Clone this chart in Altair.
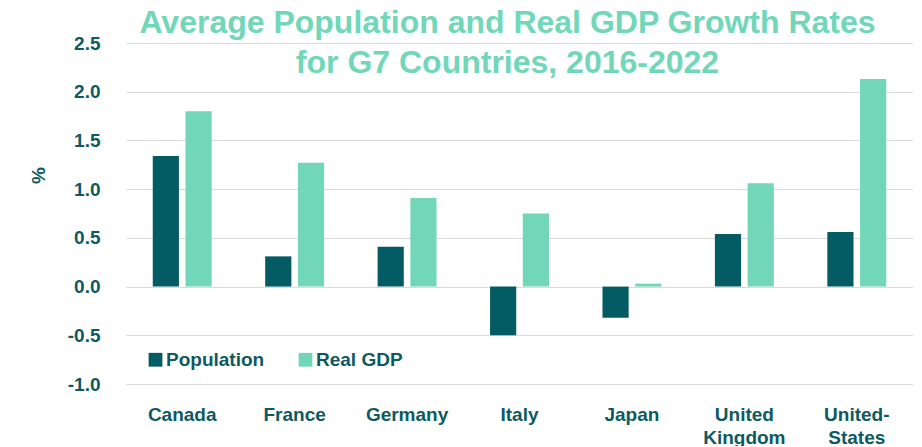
import altair as alt
import pandas as pd

countries = ["Canada", "France", "Germany", "Italy", "Japan", "United Kingdom", "United-States"]
population = [1.34, 0.31, 0.41, -0.50, -0.32, 0.54, 0.56]
real_gdp = [1.80, 1.27, 0.91, 0.75, 0.03, 1.06, 2.13]
series = ["Population", "Real GDP"]
colors = ["#035c63", "#71d7b8"]

rows = []
for c, p, g in zip(countries, population, real_gdp):
    rows.append({"country": c, "series": "Population", "value": p})
    rows.append({"country": c, "series": "Real GDP", "value": g})
df = pd.DataFrame(rows)

FONT = "Liberation Sans"
TXT = "#0d5a60"

label_expr = ("datum.value == 'United Kingdom' ? ['United','Kingdom'] : "
              "datum.value == 'United-States' ? ['United-','States'] : datum.value")
y_label_expr = "replace(format(datum.value, '.1f'), '\u2212', '-')"

chart = alt.Chart(df).mark_bar().encode(
    x=alt.X("country:N", sort=countries,
            scale=alt.Scale(paddingInner=0.476, paddingOuter=0.238),
            axis=alt.Axis(title=None, labelAngle=0, labelExpr=label_expr,
                          labelFont=FONT, labelFontSize=19, labelFontWeight="bold",
                          labelColor=TXT, labelPadding=21, labelBaseline="top",
                          labelLineHeight=23, domain=False, ticks=False, grid=False)),
    xOffset=alt.XOffset("series:N", sort=series,
                        scale=alt.Scale(paddingInner=0.2, paddingOuter=0)),
    y=alt.Y("value:Q", scale=alt.Scale(domain=[-1, 2.5], nice=False),
            axis=alt.Axis(title="%", values=[-1, -0.5, 0, 0.5, 1, 1.5, 2, 2.5],
                          labelExpr=y_label_expr, labelFont=FONT, labelFontSize=19,
                          labelFontWeight="bold", labelColor=TXT, labelPadding=26,
                          titleFont=FONT, titleFontSize=19, titleFontWeight="bold",
                          titleColor=TXT, titleAngle=-90, titleX=-88, titleY=132,
                          titleAlign="center", titleBaseline="middle",
                          domain=False, ticks=False, gridColor="#d9d9d9", gridWidth=1)),
    color=alt.Color("series:N", scale=alt.Scale(domain=series, range=colors),
                    legend=alt.Legend(title=None, orient="none", legendX=20, legendY=307,
                                      direction="horizontal", symbolType="square",
                                      symbolSize=190, symbolStrokeWidth=0,
                                      labelFont=FONT, labelFontSize=19,
                                      labelFontWeight="bold", labelColor=TXT,
                                      labelOffset=1, columnPadding=31)),
).properties(
    width=787,
    height=341,
    padding={"left": 118, "top": 35, "right": 0, "bottom": 62},
    autosize=alt.AutoSizeParams(type="none"),
    title=alt.TitleParams(
        text=["Average Population and Real GDP Growth Rates", "for G7 Countries, 2016-2022"],
        font=FONT, fontSize=32, fontWeight="bold", color="#71d7b8",
        anchor="middle", lineHeight=40, offset=0, dx=-12, dy=46,
    ),
).configure_view(stroke=None)

chart.save("out.html", embed_options={"renderer": "svg", "actions": False})
